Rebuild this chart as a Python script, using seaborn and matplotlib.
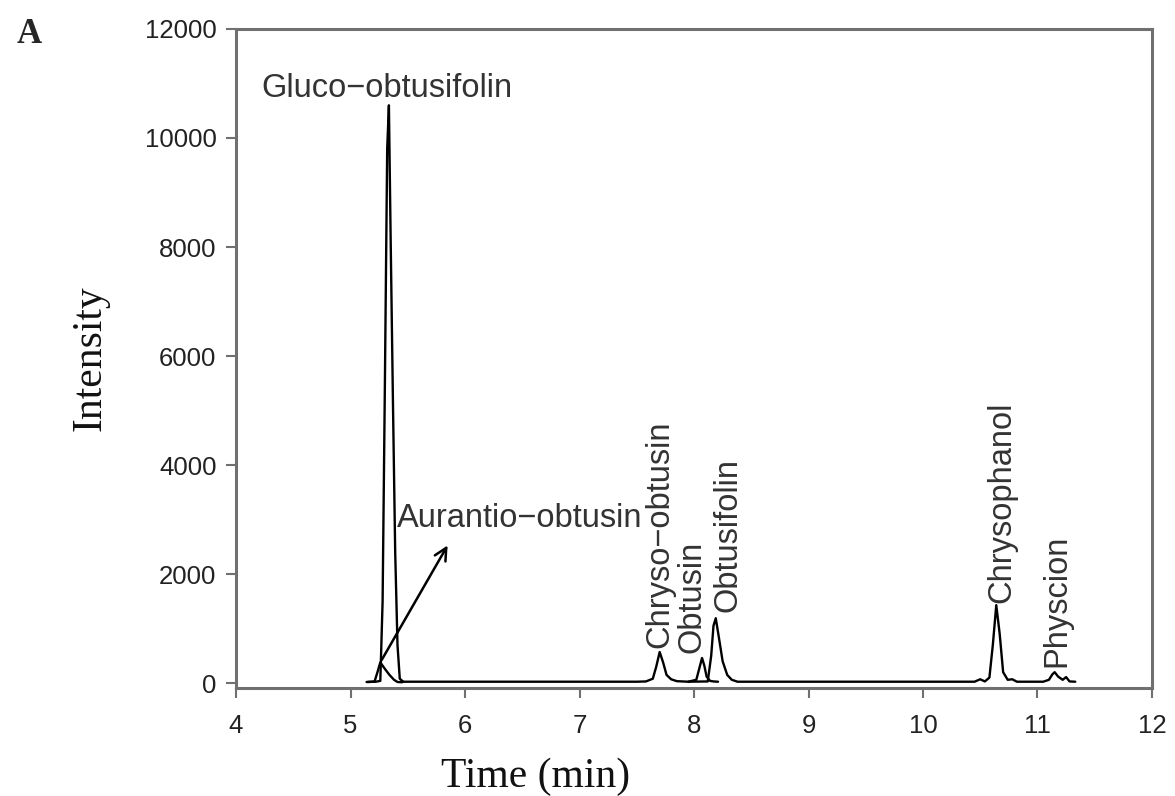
import matplotlib
matplotlib.use("Agg")
import matplotlib.pyplot as plt
import seaborn as sns
import pandas as pd

# chromatogram traces (time in min, intensity)
gluco_time = [5.14, 5.22, 5.26, 5.28, 5.30, 5.32, 5.335, 5.35, 5.37, 5.39, 5.41, 5.43, 5.46]
gluco_intensity = [20, 25, 40, 1500, 5500, 9800, 10600, 8200, 5200, 2400, 700, 80, 25]

aurantio_time = [5.15, 5.21, 5.235, 5.26, 5.30, 5.34, 5.38, 5.41, 5.45]
aurantio_intensity = [20, 30, 200, 380, 260, 150, 60, 20, 15]

obtusin_time = [7.95, 8.02, 8.05, 8.07, 8.09, 8.11, 8.14, 8.17, 8.21]
obtusin_intensity = [25, 60, 300, 460, 320, 120, 40, 30, 25]

main_time = [5.44, 7.50, 7.58, 7.64, 7.67, 7.70, 7.73, 7.76, 7.80, 7.85, 7.95,
             8.12, 8.15, 8.17, 8.19, 8.22, 8.25, 8.29, 8.33, 8.38,
             10.45, 10.50, 10.54, 10.58, 10.61, 10.64, 10.67, 10.70, 10.74, 10.78, 10.82,
             11.05, 11.10, 11.13, 11.15, 11.18, 11.22, 11.25, 11.28, 11.33]
main_intensity = [25, 25, 30, 80, 300, 570, 380, 150, 70, 35, 25,
                  30, 500, 1050, 1190, 800, 400, 150, 60, 25,
                  25, 70, 30, 100, 700, 1430, 900, 200, 60, 70, 25,
                  25, 60, 160, 200, 120, 60, 110, 30, 25]

# peak labels: name, anchor time, anchor intensity, rotated?
label_names = ["Gluco−obtusifolin", "Aurantio−obtusin", "Chryso−obtusin", "Obtusin",
               "Obtusifolin", "Chrysophanol", "Physcion"]
label_times = [5.314, 5.406, 7.703, 7.983, 8.297, 10.69, 11.17]
label_heights = [10917, 3028, 642, 550, 1303, 1468, 294]
label_vertical = [False, False, True, True, True, True, True]

x_ticks = [4, 5, 6, 7, 8, 9, 10, 11, 12]
y_ticks = [0, 2000, 4000, 6000, 8000, 10000, 12000]

segments = [
    ("gluco", gluco_time, gluco_intensity),
    ("aurantio", aurantio_time, aurantio_intensity),
    ("obtusin", obtusin_time, obtusin_intensity),
    ("main", main_time, main_intensity),
]
trace_df = pd.concat(
    [pd.DataFrame({"segment": name, "time": t, "intensity": y}) for name, t, y in segments],
    ignore_index=True,
)

sns.set_theme(style="white")
plt.rcParams["font.family"] = ["Liberation Sans", "DejaVu Sans"]

fig = plt.figure(figsize=(11.75, 7.96), dpi=100)
ax = fig.add_axes([0.2009, 0.1357, 0.7795, 0.8279])

sns.lineplot(data=trace_df, x="time", y="intensity", units="segment", estimator=None,
             sort=False, color="black", linewidth=1.7, legend=False, ax=ax)

for name, t, h, vert in zip(label_names, label_times, label_heights, label_vertical):
    if vert:
        ax.text(t, h, name, rotation=90, ha="center", va="bottom", fontsize=23.5, color="#333333")
    else:
        ha = "center" if name.startswith("Gluco") else "left"
        ax.text(t, h, name, ha=ha, va="center", fontsize=23.5, color="#333333")

ax.annotate("", xy=(5.86, 2570), xytext=(5.26, 380),
            arrowprops=dict(arrowstyle="->", lw=1.8, color="black", mutation_scale=22))

ax.set_xlim(4, 12)
ax.set_ylim(-90, 12000)
ax.set_xticks(x_ticks)
ax.set_yticks(y_ticks)

for s in ax.spines.values():
    s.set_color("#707070")
    s.set_linewidth(2.2)

ax.tick_params(bottom=True, left=True, direction="out", length=7, width=1.5,
               color="#707070", labelsize=18.5, labelcolor="#222222")
ax.tick_params(axis="x", pad=12)
ax.tick_params(axis="y", pad=7)

ax.set_xlabel("Time (min)", fontfamily="Liberation Serif", fontsize=30, color="#111111")
ax.xaxis.set_label_coords(0.3275, -0.105)
ax.set_ylabel("Intensity", fontfamily="Liberation Serif", fontsize=30, color="#111111")
ax.yaxis.set_label_coords(-0.138, 0.5)

fig.text(0.0145, 0.946, "A", fontfamily="Liberation Serif", fontweight="bold", fontsize=25)

fig.savefig("out.png", dpi=100)
